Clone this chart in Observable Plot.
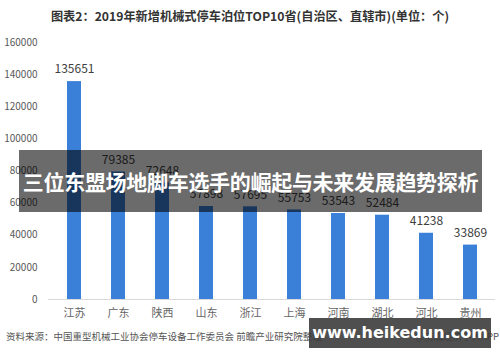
<!DOCTYPE html>
<html>
<head>
<meta charset="utf-8">
<script src="https://cdn.jsdelivr.net/npm/d3@7"></script>
<script src="https://cdn.jsdelivr.net/npm/@observablehq/plot@0.6"></script>
<style>
  html, body { margin: 0; padding: 0; background: #fff; }
  #wrap { position: relative; width: 500px; height: 362px; overflow: hidden; font-family: "Noto Sans CJK SC", "Noto Sans", sans-serif; }
  #chart { position: absolute; left: 0; top: 0; }
  .title { position: absolute; left: 0; width: 500px; top: 7px; text-align: center; font-size: 12.2px; font-weight: bold; color: #333; }
  .source { position: absolute; left: 6px; top: 329px; font-size: 9.5px; color: #555; }
  .app { position: absolute; right: 1px; top: 329px; font-size: 9.5px; color: #555; }
  .banner { position: absolute; left: 19px; top: 150px; width: 463px; height: 62px; background: rgba(0,0,0,0.58); color: #fff; font-weight: bold; font-size: 21px; line-height: 62px; text-align: center; white-space: nowrap; letter-spacing: -0.3px; }
  .mark { position: absolute; left: 309px; top: 318px; width: 182px; height: 30px; background: rgba(60,60,60,0.9); color: #fff; font-family: "DejaVu Sans", sans-serif; font-weight: bold; font-size: 16px; line-height: 30px; text-align: center; }
</style>
</head>
<body>
<div id="wrap">
  <div id="chart"></div>
  <div class="title">图表2：2019年新增机械式停车泊位TOP10省(自治区、直辖市)(单位：个)</div>
  <div class="source">资料来源：中国重型机械工业协会停车设备工作委员会 前瞻产业研究院整理</div>
  <div class="app">@前瞻经济学人APP</div>
  <div class="banner">三位东盟场地脚车选手的崛起与未来发展趋势探析</div>
  <div class="mark">www.heikedun.com</div>
</div>
<script>
const provinces = ["江苏", "广东", "陕西", "山东", "浙江", "上海", "河南", "湖北", "河北", "贵州"];
const values = [135651, 79385, 72648, 57898, 57695, 55753, 53543, 52484, 41238, 33869];
const yTicks = [0, 20000, 40000, 60000, 80000, 100000, 120000, 140000, 160000];

const data = provinces.map((p, i) => ({province: p, value: values[i]}));

const chart = Plot.plot({
  width: 500,
  height: 362,
  marginTop: 42,
  marginBottom: 63,
  marginLeft: 48,
  marginRight: 5,
  style: {fontFamily: "'Noto Sans CJK SC', 'Noto Sans', sans-serif", background: "transparent"},
  x: {domain: provinces, paddingInner: 0.69, paddingOuter: 0.345, label: null},
  y: {domain: [0, 160000], label: null},
  marks: [
    Plot.axisY({ticks: yTicks, tickSize: 0, tickPadding: 11, tickFormat: d => String(d), fontSize: 10, fill: "#595959", label: null}),
    Plot.axisX({tickSize: 0, tickPadding: 10, fontSize: 11, fill: "#666", label: null}),
    Plot.barY(data, {x: "province", y: "value", fill: "#3a7fd8"}),
    Plot.ruleY([0], {stroke: "#d9d9d9"}),
    Plot.text(data, {x: "province", y: "value", text: d => String(d.value), dy: -12, fontSize: 12, fill: "#404040"})
  ]
});
document.getElementById("chart").appendChild(chart);
</script>
</body>
</html>
